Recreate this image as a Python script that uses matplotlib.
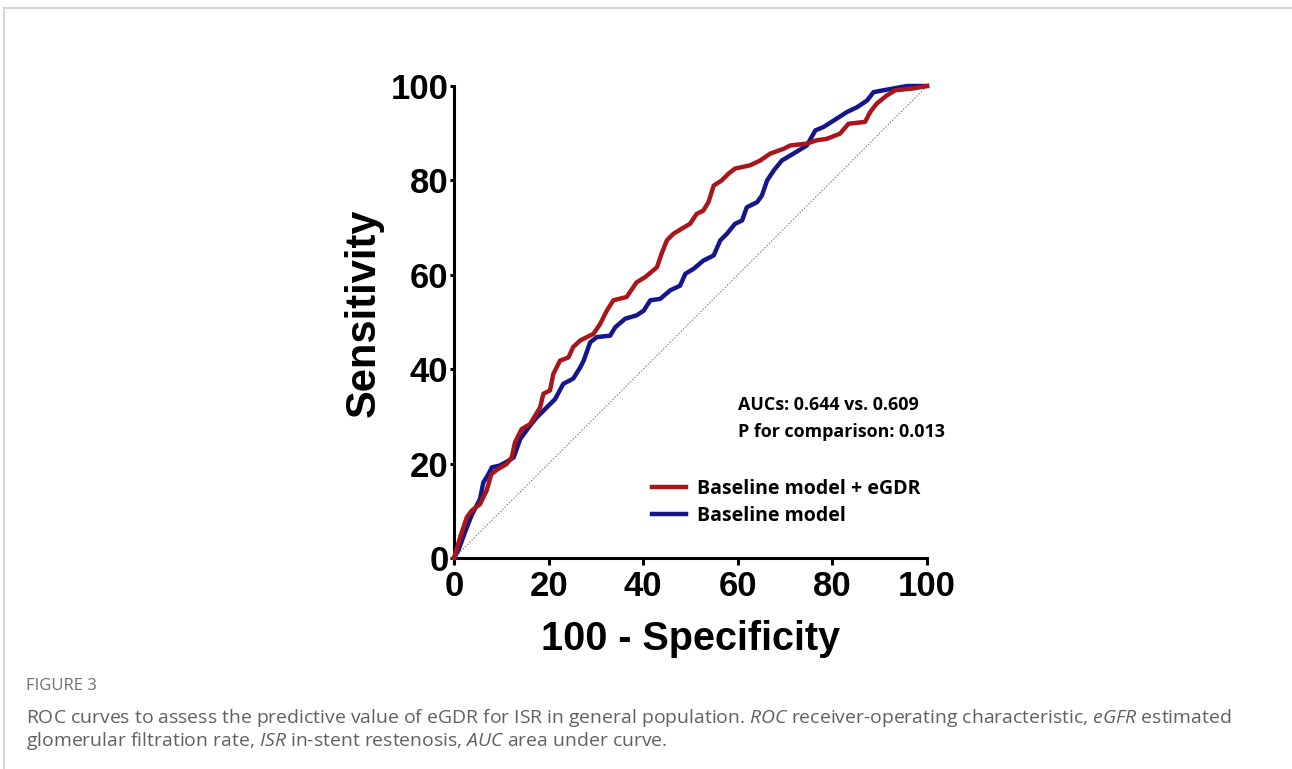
import matplotlib
matplotlib.use("Agg")
import matplotlib.pyplot as plt
from matplotlib.lines import Line2D

# ROC points (100 - specificity, sensitivity)
egdr_fpr = [0, 1.3, 2.7, 3.7, 5.5, 6.9, 7.9, 9.4, 11.1, 12.2, 12.9, 14.3, 16.1,
            18.2, 18.9, 20.3, 21.0, 22.4, 24.2, 25.2, 26.7, 29.5, 30.9, 32.3,
            33.7, 36.5, 38.6, 40.4, 42.9, 43.9, 45.0, 46.4, 48.2, 49.9, 51.3,
            52.7, 53.8, 54.9, 56.6, 58.0, 59.4, 62.6, 64.7, 66.9, 69.7, 71.1,
            74.6, 76.7, 78.8, 81.6, 83.4, 86.9, 88.0, 89.4, 91.5, 93.3, 97.2, 100]
egdr_tpr = [0, 4.4, 8.6, 10.0, 11.4, 14.3, 17.8, 18.9, 19.9, 21.3, 24.5, 27.3, 28.4,
            31.9, 34.8, 35.5, 39.0, 41.8, 42.5, 44.7, 46.1, 47.5, 49.6, 52.4,
            54.6, 55.3, 58.4, 59.5, 61.6, 64.5, 67.3, 68.7, 69.8, 70.8, 72.9,
            73.6, 75.4, 78.9, 80.0, 81.4, 82.5, 83.2, 84.2, 85.7, 86.7, 87.4,
            87.8, 88.5, 88.8, 89.9, 92.0, 92.4, 94.5, 96.3, 98.0, 99.1, 99.5, 100]

base_fpr = [0, 0.9, 2.3, 3.7, 5.5, 6.2, 7.3, 8.0, 9.7, 11.5, 12.6, 14.0, 15.8,
            17.5, 19.6, 21.4, 23.1, 25.2, 26.7, 27.4, 28.8, 30.2, 33.0, 34.1,
            36.2, 38.6, 40.1, 41.5, 43.6, 45.7, 47.8, 48.9, 50.7, 52.7, 54.9,
            56.3, 57.7, 59.4, 60.9, 61.9, 64.1, 65.1, 66.2, 67.6, 69.3, 71.8,
            74.6, 76.4, 78.1, 80.3, 83.1, 85.2, 87.3, 88.7, 90.8, 95.8, 100]
base_tpr = [0, 1.6, 5.4, 9.0, 12.5, 16.0, 17.8, 19.2, 19.6, 20.6, 21.3, 25.2, 27.7,
            29.8, 31.9, 33.7, 36.9, 38.0, 40.4, 41.8, 45.7, 46.8, 47.1, 48.9,
            50.7, 51.4, 52.4, 54.6, 54.9, 56.7, 57.7, 60.2, 61.3, 63.0, 64.1,
            67.3, 68.7, 70.8, 71.5, 74.3, 75.4, 76.8, 80.0, 82.1, 84.2, 85.7,
            87.4, 90.6, 91.3, 92.7, 94.5, 95.5, 96.9, 98.7, 99.1, 100, 100]

labels = ["Baseline model + eGDR", "Baseline model"]
ticks = [0, 20, 40, 60, 80, 100]

red = "#a8161a"
blue = "#16168c"

plt.rcParams["mathtext.fontset"] = "custom"
plt.rcParams["mathtext.it"] = "Open Sans:italic"
plt.rcParams["mathtext.rm"] = "Open Sans"

fig = plt.figure(figsize=(12.92, 7.69), dpi=100)

# light frame round the figure panel
fig.add_artist(Line2D([3.5 / 1292, 1], [1 - 7.5 / 769, 1 - 7.5 / 769],
                      color="#d6d6d6", lw=1.5, transform=fig.transFigure))
fig.add_artist(Line2D([3.5 / 1292, 3.5 / 1292], [0, 1 - 7.5 / 769],
                      color="#d6d6d6", lw=1.5, transform=fig.transFigure))

ax = fig.add_axes([454 / 1292, 1 - 558 / 769, 473 / 1292, 472 / 769])
ax.set_xlim(0, 100)
ax.set_ylim(0, 100)

ax.plot([0, 100], [0, 100], color="#777777", lw=0.8, ls=(0, (1.2, 1.6)), zorder=1)
ax.plot(egdr_fpr, egdr_tpr, color=red, lw=3.2, label=labels[0], clip_on=False, zorder=3)
ax.plot(base_fpr, base_tpr, color=blue, lw=3.2, label=labels[1], clip_on=False, zorder=2)

for side in ["top", "right"]:
    ax.spines[side].set_visible(False)
for side in ["left", "bottom"]:
    ax.spines[side].set_linewidth(2.2)

ax.set_xticks(ticks)
ax.set_yticks(ticks)
tick_font = dict(family="Liberation Sans", weight="bold", size=25)
ax.set_xticklabels([str(t) for t in ticks], fontdict=tick_font)
ax.set_yticklabels([str(t) for t in ticks], fontdict=tick_font)
ax.tick_params(axis="x", length=5, width=2.2, pad=4)
ax.tick_params(axis="y", length=3, width=2.2, pad=1)

ax.set_xlabel("100 - Specificity", family="Liberation Sans", weight="bold", size=28.5, labelpad=12)
ax.set_ylabel("Sensitivity", family="Liberation Sans", weight="bold", size=30)
ax.yaxis.set_label_coords(-0.148, 0.519)

ax.text(0.600, 32.5, "AUCs: 0.644 vs. 0.609", transform=ax.get_yaxis_transform(),
        family="Open Sans", weight="bold", size=12.9, va="center", ha="left")
ax.text(0.600, 26.7, "P for comparison: 0.013", transform=ax.get_yaxis_transform(),
        family="Open Sans", weight="bold", size=12.9, va="center", ha="left")

ax.legend(loc="upper left", bbox_to_anchor=(0.4186, 0.167), frameon=False,
          prop=dict(family="Open Sans", weight="bold", size=14),
          handlelength=1.75, handletextpad=0.55, labelspacing=0.35,
          borderpad=0, borderaxespad=0)

fig.text(26 / 1292, 1 - 686 / 769, "FIGURE 3", family="Open Sans", size=12,
         color="#707070", va="center")
fig.text(26 / 1292, 1 - 718 / 769,
         r"ROC curves to assess the predictive value of eGDR for ISR in general population. "
         r"$\mathit{ROC}$ receiver-operating characteristic, $\mathit{eGFR}$ estimated",
         family="Open Sans", size=13.95, color="#606060", va="center")
fig.text(26 / 1292, 1 - 741 / 769,
         r"glomerular filtration rate, $\mathit{ISR}$ in-stent restenosis, $\mathit{AUC}$ area under curve.",
         family="Open Sans", size=13.95, color="#606060", va="center")

fig.savefig("out.png", dpi=100)
